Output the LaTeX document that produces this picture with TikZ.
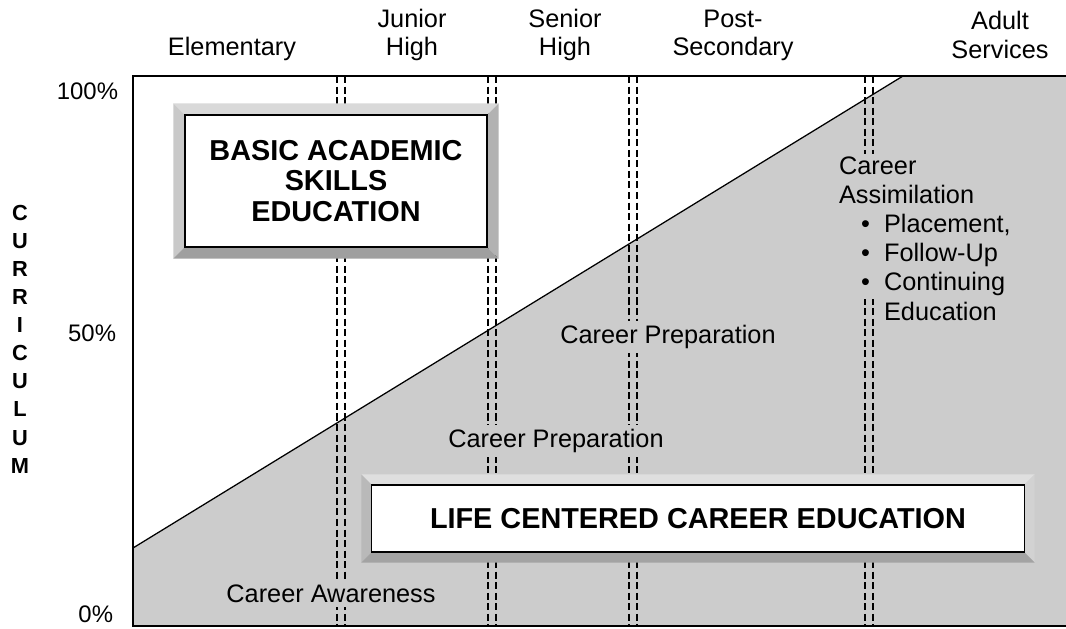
\documentclass[tikz,border=0pt]{standalone}
\usepackage{fontspec}
\setmainfont{Liberation Sans}
\usetikzlibrary{positioning}

\tikzset{
  stage/.style={align=center, font=\fontsize{18}{20}\selectfont},
  phase/.style={fill=black!20, inner sep=3pt, font=\fontsize{18}{20}\selectfont},
  pct/.style={anchor=east, font=\fontsize{17}{20}\selectfont},
  bigbox/.style={draw=black, line width=0.8pt, fill=white, align=center,
    font=\bfseries\fontsize{20.5}{21.5}\selectfont},
  pairline/.style={dashed, dash pattern=on 5pt off 2.5pt, line width=0.9pt}
}

% bevelled frame round a box: #1 node, #2 bevel width, #3-#6 top/left/right/bottom shades
\newcommand{\bevelframe}[6]{%
  \fill[#3] ([shift={(-#2,-#2)}]#1.north west) -- ([shift={(#2,-#2)}]#1.north east)
    -- (#1.north east) -- (#1.north west) -- cycle;
  \fill[#4] ([shift={(-#2,-#2)}]#1.north west) -- (#1.north west)
    -- (#1.south west) -- ([shift={(-#2,#2)}]#1.south west) -- cycle;
  \fill[#5] ([shift={(#2,-#2)}]#1.north east) -- (#1.north east)
    -- (#1.south east) -- ([shift={(#2,#2)}]#1.south east) -- cycle;
  \fill[#6] ([shift={(-#2,#2)}]#1.south west) -- (#1.south west)
    -- (#1.south east) -- ([shift={(#2,#2)}]#1.south east) -- cycle;
  \draw[line width=0.8pt] (#1.north west) rectangle (#1.south east);
}

\begin{document}
\begin{tikzpicture}[x=0.025cm, y=-0.025cm]
  \useasboundingbox (0,0) rectangle (1066,629);

  % shaded part under the diagonal
  \fill[black!20] (133,548) -- (903,76) -- (1066,76) -- (1066,626) -- (133,626) -- cycle;

  % stage boundaries
  \foreach \x in {341,492,633,869} {
    \draw[pairline] (\x-4,76) -- (\x-4,626);
    \draw[pairline] (\x+4,76) -- (\x+4,626);
  }

  % frame and diagonal
  \draw[line width=0.9pt] (1066,76) -- (133,76) -- (133,626) -- (1066,626);
  \draw[line width=0.9pt] (133,548) -- (903,76);

  % boxes
  \node[bigbox, minimum width=7.55cm, minimum height=3.3cm] (basic) at (336,181)
    {BASIC ACADEMIC\\SKILLS\\EDUCATION};
  \bevelframe{basic}{11}{gray!30}{gray!42}{gray!60}{gray!75}
  \node[bigbox, minimum width=16.3cm, minimum height=1.675cm] (life) at (698,518.5)
    {LIFE CENTERED CAREER EDUCATION};
  \bevelframe{life}{10}{gray!25}{gray!55}{gray!35}{gray!72}

  % stages along the top
  \node[stage] (elem) at (232,49) {Elementary};
  \node[stage] (junior) at (412,35) {Junior\\High};
  \node[stage] (senior) at (565,35) {Senior\\High};
  \node[stage] (post) at (733,35) {Post-\\Secondary};
  \node[stage] (adult) at (1000,35) {Adult\\Services};

  % curriculum axis
  \node[pct] (full) at (123,91) {100\%};
  \node[pct] (half) at (121,333) {50\%};
  \node[pct] (none) at (118,614) {0\%};
  \node[align=center, font=\bfseries\fontsize{15.5}{20}\selectfont] (curr) at (20,339)
    {C\\U\\R\\R\\I\\C\\U\\L\\U\\M};

  % phases
  \node[phase] (prep1) at (668,337) {Career Preparation};
  \node[phase] (prep2) at (556,441) {Career Preparation};
  \node[phase] (aware) at (331,594) {Career Awareness};
  \node[phase, align=left, anchor=north west, inner sep=2pt,
    font=\fontsize{18}{20.6}\selectfont] (assim) at (836,154)
    {Career\\Assimilation\\
     \makebox[32pt][r]{\textbullet\hspace{10pt}}Placement,\\
     \makebox[32pt][r]{\textbullet\hspace{10pt}}Follow-Up\\
     \makebox[32pt][r]{\textbullet\hspace{10pt}}Continuing};
  \node[phase, anchor=north west, inner sep=2pt, below=0pt of assim.south west,
    xshift=32pt, anchor=north west] (educ) {Education};
\end{tikzpicture}
\end{document}
